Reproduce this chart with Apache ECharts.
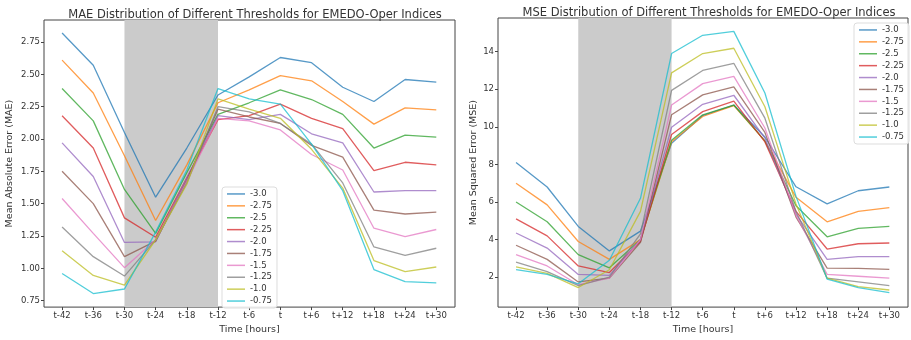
<!DOCTYPE html>
<html>
<head>
<meta charset="utf-8">
<script src="https://cdn.jsdelivr.net/npm/echarts@6/dist/echarts.min.js"></script>
<style>
  html, body { margin: 0; padding: 0; background: #fff; }
  #chart { width: 911px; height: 340px; }
</style>
</head>
<body>
<div id="chart"></div>
<script>
let timeLabels = ["t-42", "t-36", "t-30", "t-24", "t-18", "t-12", "t-6", "t", "t+6", "t+12", "t+18", "t+24", "t+30"];
let thresholds = ["-3.0", "-2.75", "-2.5", "-2.25", "-2.0", "-1.75", "-1.5", "-1.25", "-1.0", "-0.75"];
let colors = ["#1f77b4", "#ff7f0e", "#2ca02c", "#d62728", "#9467bd", "#8c564b", "#e377c2", "#7f7f7f", "#bcbd22", "#17becf"];

// MAE per threshold
let mae_30 = [2.82, 2.57, 2.05, 1.55, 1.93, 2.34, 2.48, 2.63, 2.59, 2.40, 2.29, 2.46, 2.44];
let mae_275 = [2.61, 2.355, 1.87, 1.37, 1.80, 2.28, 2.38, 2.49, 2.45, 2.29, 2.115, 2.24, 2.225];
let mae_25 = [2.39, 2.14, 1.61, 1.27, 1.74, 2.19, 2.28, 2.38, 2.305, 2.19, 1.93, 2.03, 2.015];
let mae_225 = [2.18, 1.93, 1.39, 1.24, 1.70, 2.15, 2.18, 2.27, 2.16, 2.08, 1.755, 1.82, 1.80];
let mae_20 = [1.97, 1.71, 1.20, 1.205, 1.70, 2.18, 2.15, 2.19, 2.04, 1.97, 1.59, 1.60, 1.60];
let mae_175 = [1.75, 1.50, 1.09, 1.21, 1.68, 2.23, 2.17, 2.12, 1.95, 1.86, 1.45, 1.42, 1.435];
let mae_15 = [1.54, 1.27, 1.005, 1.22, 1.67, 2.16, 2.14, 2.07, 1.88, 1.76, 1.31, 1.245, 1.30];
let mae_125 = [1.32, 1.09, 0.94, 1.22, 1.66, 2.25, 2.21, 2.12, 1.96, 1.66, 1.165, 1.10, 1.155];
let mae_10 = [1.135, 0.945, 0.87, 1.22, 1.65, 2.31, 2.23, 2.16, 1.92, 1.62, 1.06, 0.975, 1.01];
let mae_075 = [0.96, 0.805, 0.84, 1.28, 1.76, 2.39, 2.31, 2.27, 1.96, 1.60, 0.99, 0.897, 0.888];

// MSE per threshold
let mse_30 = [8.1, 6.8, 4.7, 3.4, 4.45, 9.12, 10.6, 11.16, 9.46, 6.81, 5.9, 6.6, 6.8];
let mse_275 = [7.0, 5.85, 3.9, 2.95, 4.0, 9.21, 10.55, 11.13, 9.25, 6.25, 4.95, 5.5, 5.7];
let mse_25 = [6.0, 4.95, 3.2, 2.5, 4.0, 9.28, 10.64, 11.16, 9.25, 5.8, 4.15, 4.6, 4.7];
let mse_225 = [5.1, 4.2, 2.6, 2.25, 3.9, 9.59, 10.81, 11.37, 9.2, 5.5, 3.5, 3.78, 3.82];
let mse_20 = [4.35, 3.55, 2.15, 2.1, 4.0, 9.98, 11.2, 11.68, 9.4, 5.35, 2.95, 3.1, 3.1];
let mse_175 = [3.7, 2.95, 1.75, 1.95, 3.85, 10.64, 11.7, 12.12, 9.7, 5.2, 2.48, 2.47, 2.42];
let mse_15 = [3.2, 2.6, 1.6, 1.95, 4.0, 11.16, 12.3, 12.68, 9.94, 5.3, 2.15, 2.05, 1.95];
let mse_125 = [2.8, 2.3, 1.55, 2.0, 4.3, 11.94, 13.0, 13.38, 10.46, 5.5, 1.95, 1.75, 1.55];
let mse_10 = [2.55, 2.2, 1.45, 2.4, 5.5, 12.87, 13.9, 14.18, 11.07, 5.9, 1.95, 1.5, 1.32];
let mse_075 = [2.4, 2.15, 1.65, 2.9, 6.2, 13.9, 14.87, 15.08, 11.8, 6.3, 1.9, 1.45, 1.18];

let maeTicks = [0.75, 1.0, 1.25, 1.5, 1.75, 2.0, 2.25, 2.5, 2.75];
let mseTicks = [2, 4, 6, 8, 10, 12, 14];
let shadeFrom = 2; // t-30
let shadeTo = 5;   // t-12

let maeData = [mae_30, mae_275, mae_25, mae_225, mae_20, mae_175, mae_15, mae_125, mae_10, mae_075];
let mseData = [mse_30, mse_275, mse_25, mse_225, mse_20, mse_175, mse_15, mse_125, mse_10, mse_075];

let font = "DejaVu Sans";
let textColor = "#333";
let tickIdx = timeLabels.map((_, i) => i);

function xAxisFor(gridIndex) {
  return {
    type: "value",
    gridIndex: gridIndex,
    min: -0.58,
    max: 12.6,
    name: "Time [hours]",
    nameLocation: "middle",
    nameGap: 15,
    nameTextStyle: { color: textColor, fontSize: 9.5, fontFamily: font },
    axisLine: { show: false, onZero: false },
    splitLine: { show: false },
    axisTick: { show: true, length: 3, customValues: tickIdx, lineStyle: { color: "#444" } },
    axisLabel: {
      customValues: tickIdx,
      formatter: (v) => timeLabels[Math.round(v)],
      color: textColor, fontSize: 8.5, fontFamily: font, margin: 4,
    },
  };
}

function yAxisFor(gridIndex, min, max, ticks, name, gap, digits) {
  return {
    type: "value",
    gridIndex: gridIndex,
    position: "left",
    min: min,
    max: max,
    name: name,
    nameLocation: "middle",
    nameGap: gap,
    nameTextStyle: { color: textColor, fontSize: 9.5, fontFamily: font },
    axisLine: { show: false, onZero: false },
    splitLine: { show: false },
    axisTick: { show: true, length: 3, customValues: ticks, lineStyle: { color: "#444" } },
    axisLabel: {
      customValues: ticks,
      formatter: (v) => v.toFixed(digits),
      color: textColor, fontSize: 8.5, fontFamily: font, margin: 4,
    },
  };
}

function seriesFor(dataSets, axisIndex) {
  // shaded window t-30 .. t-12
  let list = [{
    type: "line",
    xAxisIndex: axisIndex,
    yAxisIndex: axisIndex,
    data: [],
    silent: true,
    z: 1,
    markArea: {
      silent: true,
      itemStyle: { color: "#cbcbcb", opacity: 1 },
      data: [[{ xAxis: shadeFrom }, { xAxis: shadeTo }]],
    },
  }];
  dataSets.forEach((vals, k) => {
    list.push({
      name: thresholds[k],
      type: "line",
      xAxisIndex: axisIndex,
      yAxisIndex: axisIndex,
      data: vals.map((v, i) => [i, v]),
      showSymbol: false,
      symbol: "none",
      color: colors[k],
      lineStyle: { width: 1.3, opacity: 0.75 },
      z: 3,
    });
  });
  return list;
}

function legendFor(left, top) {
  return {
    data: thresholds,
    orient: "vertical",
    left: left,
    top: top,
    icon: "rect",
    itemWidth: 18,
    itemHeight: 1.5,
    itemGap: 0,
    padding: [1, 5, 1, 5],
    borderColor: "#ddd",
    borderWidth: 1,
    borderRadius: 3,
    backgroundColor: "rgba(255,255,255,0.85)",
    selectedMode: false,
    itemStyle: { opacity: 0.75 },
    textStyle: { color: textColor, fontSize: 8.5, fontFamily: font, lineHeight: 11.9 },
  };
}

let chart = echarts.init(document.getElementById("chart"), null, { renderer: "canvas" });

chart.setOption({
  animation: false,
  backgroundColor: "#fff",
  title: [
    {
      text: "MAE Distribution of Different Thresholds for EMEDO-Oper Indices",
      left: 250, top: 4, textAlign: "center",
      textStyle: { color: textColor, fontSize: 11.5, fontWeight: "normal", fontFamily: font },
    },
    {
      text: "MSE Distribution of Different Thresholds for EMEDO-Oper Indices",
      left: 704, top: 2, textAlign: "center",
      textStyle: { color: textColor, fontSize: 11.5, fontWeight: "normal", fontFamily: font },
    },
  ],
  grid: [
    { left: 44, top: 20, width: 411, height: 293, show: true, borderColor: "#444", borderWidth: 1, backgroundColor: "transparent" },
    { left: 498, top: 18, width: 410, height: 294, show: true, borderColor: "#444", borderWidth: 1, backgroundColor: "transparent" },
  ],
  xAxis: [xAxisFor(0), xAxisFor(1)],
  yAxis: [
    yAxisFor(0, 0.70, 2.92, maeTicks, "Mean Absolute Error (MAE)", 29, 2),
    yAxisFor(1, 0.41, 15.79, mseTicks, "Mean Squared Error (MSE)", 19, 0),
  ],
  legend: [legendFor(222, 187), legendFor(854, 23)],
  series: seriesFor(maeData, 0).concat(seriesFor(mseData, 1)),
});
</script>
</body>
</html>
